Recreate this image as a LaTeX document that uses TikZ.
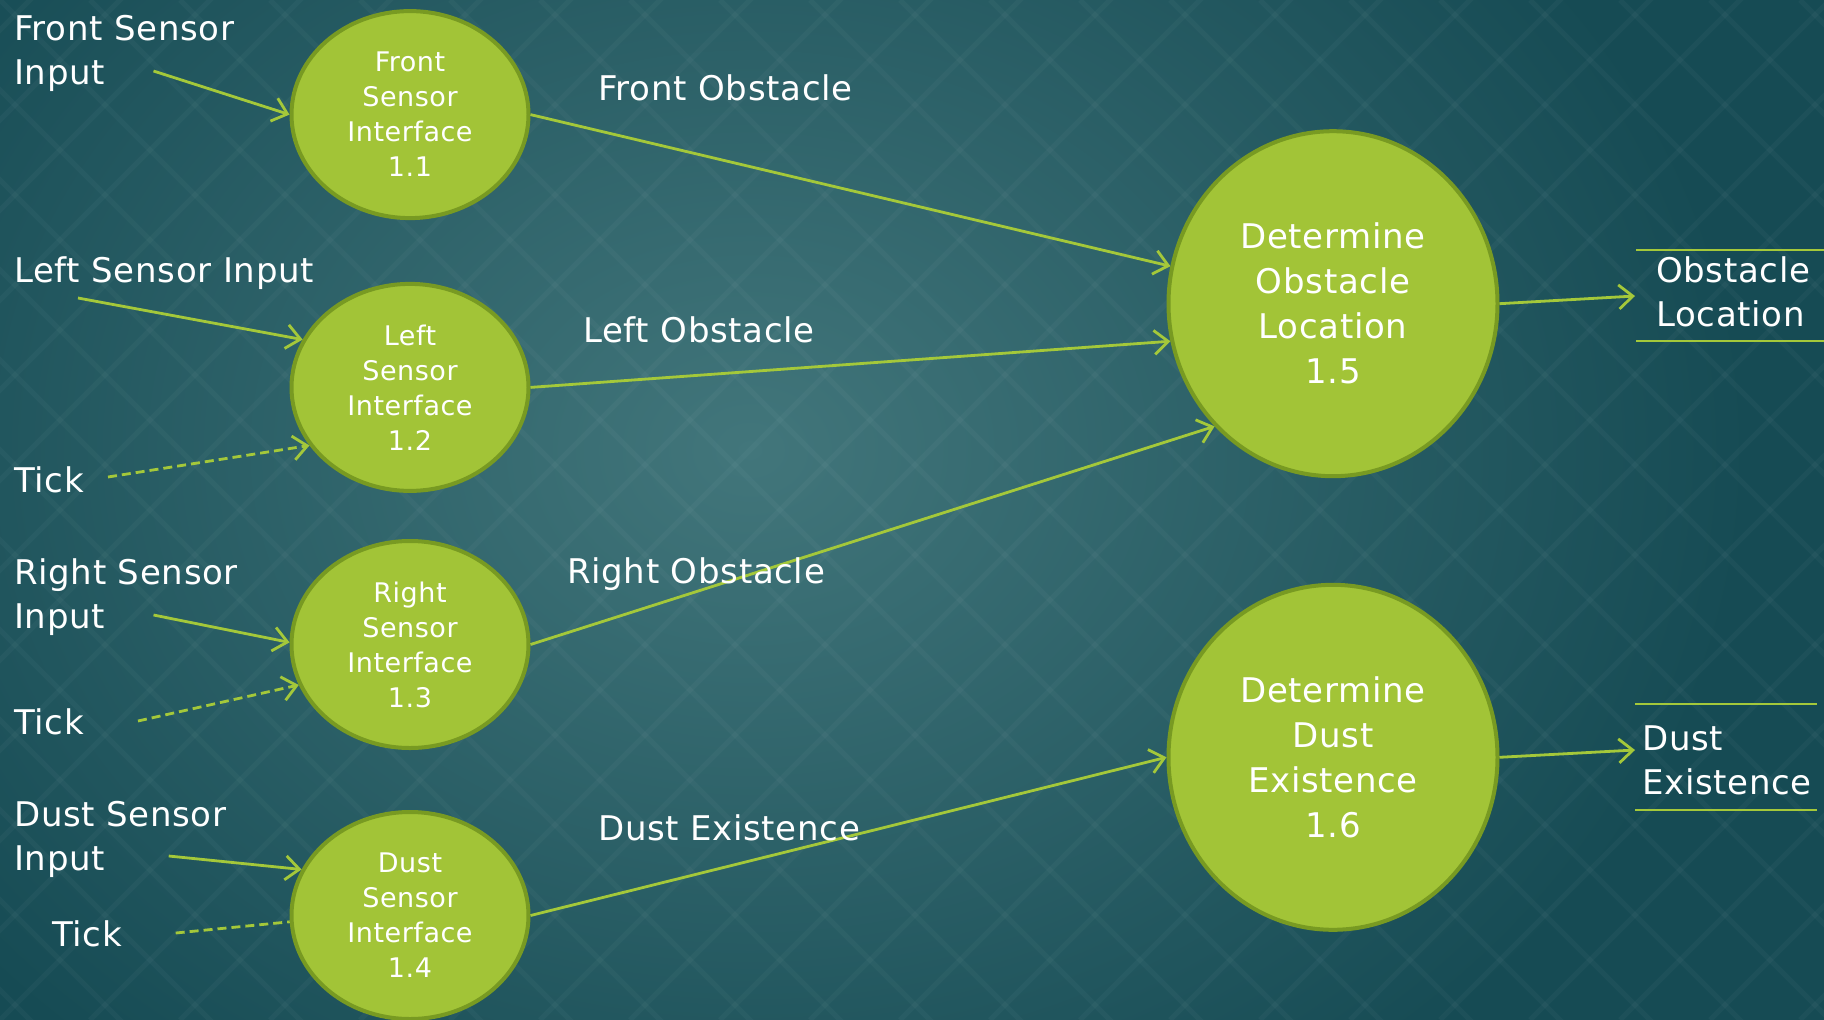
\documentclass[tikz,border=0pt]{standalone}
\usepackage{fontspec}
\setmainfont[LetterSpace=2]{DejaVu Sans}
\usetikzlibrary{arrows.meta,shapes.geometric}

\definecolor{bgdark}{HTML}{164B54}
\definecolor{bglight}{HTML}{42767B}
\definecolor{procfill}{HTML}{A2C437}
\definecolor{procedge}{HTML}{789A22}
\definecolor{flow}{HTML}{A4C83A}

\tikzset{
  proc/.style={ellipse, draw=procedge, line width=4pt, fill=procfill,
    text=white, align=center, inner sep=0pt},
  procS/.style={proc, minimum width=237pt, minimum height=207pt,
    font=\fontsize{27}{35}\selectfont},
  procL/.style={proc, minimum width=329pt, minimum height=345pt,
    font=\fontsize{34}{45}\selectfont},
  txt/.style={text=white, font=\fontsize{34}{44}\selectfont, align=left,
    inner sep=0pt, anchor=base west},
  flowline/.style={draw=flow, line width=2.8pt,
    -{Straight Barb[length=14pt,width=24pt]}},
  tickline/.style={flowline, dash pattern=on 9pt off 5pt},
  tickplain/.style={draw=flow, line width=2.8pt, dash pattern=on 9pt off 5pt},
  rule/.style={draw=flow, line width=1.6pt}
}

\begin{document}
\begin{tikzpicture}[x=1pt, y=-1pt]
\useasboundingbox (0,0) rectangle (1824,1020);

% teal background with a faint diamond lattice
\begin{scope}
  \clip (0,0) rectangle (1824,1020);
  \fill[bgdark] (0,0) rectangle (1824,1020);
  \shade[inner color=bglight, outer color=bgdark] (-250,-350) rectangle (1750,1250);
  \foreach \k in {-1080,-990,...,1890} {
    \draw[white, opacity=0.03, line width=5pt] (\k,0) -- ++(1100,1100);
    \draw[white, opacity=0.03, line width=5pt] (\k,1020) -- ++(1100,-1100);
  }
\end{scope}

% processes
\node[procS] (n11) at (410,114.6) {Front\\Sensor\\Interface\\1.1};
\node[procS] (n12) at (410,387.4) {Left\\Sensor\\Interface\\1.2};
\node[procS] (n13) at (410,644.5) {Right\\Sensor\\Interface\\1.3};
\node[procS] (n14) at (410,915.5) {Dust\\Sensor\\Interface\\1.4};
\node[procL] (n15) at (1333,303.7) {Determine\\Obstacle\\Location\\1.5};
\node[procL] (n16) at (1333,757.3) {Determine\\Dust\\Existence\\1.6};

% external inputs (anchored at the baseline of the last line)
\node[txt] (inF) at (14,84) {Front Sensor\\Input};
\node[txt] (inL) at (14,282) {Left Sensor Input};
\node[txt] (tk2) at (14,492) {Tick};
\node[txt] (inR) at (14,628) {Right Sensor\\Input};
\node[txt] (tk3) at (14,734) {Tick};
\node[txt] (inD) at (14,870) {Dust Sensor\\Input};
\node[txt] (tk4) at (52,946) {Tick};

% free ends of the flows
\coordinate (aF) at (153.5,71);
\coordinate (aL) at (78,298);
\coordinate (aT2) at (108,477);
\coordinate (aR) at (153.5,615);
\coordinate (aT3) at (138,721);
\coordinate (aD) at (168.7,856);
\coordinate (aT4) at (175.7,933);
\coordinate (oO) at (1635,296);
\coordinate (oD) at (1635,750);

% flows into the sensor interfaces
\draw[flowline] (aF) -- (n11.west);
\draw[flowline] (aL) -- (n12.156);
\draw[tickline] (aT2) -- (n12.210);
\draw[flowline] (aR) -- (n13.179);
\draw[tickline] (aT3) -- (n13.200);
\draw[flowline] (aD) -- (n14.157);
\draw[tickplain] (aT4) -- (n14.183);

% internal flows
\draw[flowline] (n11.east) -- (n15.167);
\draw[flowline] (n12.east) -- (n15.193);
\draw[flowline] (n13.east) -- (n15.226);
\draw[flowline] (n14.east) -- (n16.west);

% outputs
\draw[flowline] (n15.east) -- (oO);
\draw[flowline] (n16.east) -- (oD);

% flow labels
\node[txt] (fo) at (598,100) {Front Obstacle};
\node[txt] (lo) at (583,342) {Left Obstacle};
\node[txt] (ro) at (567,583) {Right Obstacle};
\node[txt] (de) at (598,840) {Dust Existence};

% data stores on the right
\node[txt] (outO) at (1656,326) {Obstacle\\Location};
\node[txt] (outD) at (1642,794) {Dust\\Existence};
\draw[rule] (1636,250) -- (1824,250);
\draw[rule] (1636,341) -- (1824,341);
\draw[rule] (1635,704) -- (1817,704);
\draw[rule] (1635,810) -- (1817,810);
\end{tikzpicture}
\end{document}
